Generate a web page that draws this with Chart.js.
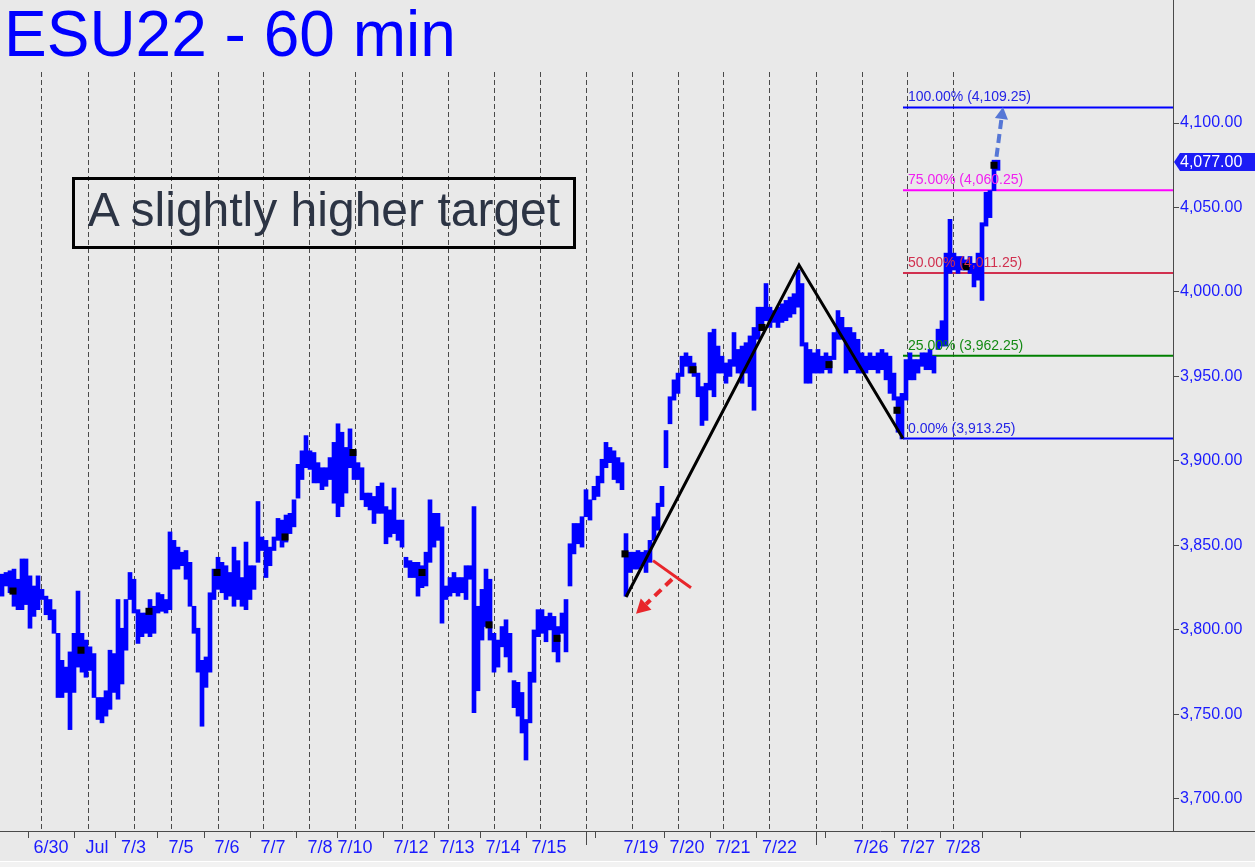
<!DOCTYPE html>
<html>
<head>
<meta charset="utf-8">
<title>ESU22 - 60 min</title>
<script src="https://cdn.jsdelivr.net/npm/chart.js@4.4.0/dist/chart.umd.min.js"></script>
<style>
  html, body { margin:0; padding:0; background:#e9e9e9; }
  #wrap { position:relative; width:1255px; height:867px; overflow:hidden; background:#e9e9e9; }
  #c { position:absolute; left:0; top:0; }
  #title { position:absolute; left:4px; top:-6px; font:64px Arial, "Liberation Sans", sans-serif; color:#0000ff; white-space:nowrap; line-height:80px; }
  #note { position:absolute; left:72px; top:177px; width:504px; height:72px; box-sizing:border-box; border:3px solid #000;
          font:48px Arial, "Liberation Sans", sans-serif; color:#2c3444; line-height:59px; text-align:center; white-space:nowrap; }
  #strip { position:absolute; left:0; top:861px; width:1255px; height:6px; background:#f2f2f2; border-top:1px solid #fff; }
</style>
</head>
<body>
<div id="wrap">
  <canvas id="c" width="1255" height="867"></canvas>
  <div id="title">ESU22 - 60 min</div>
  <div id="note">A slightly higher target</div>
  <div id="strip"></div>
</div>
<script>
// 60 min bars, one column = 2 hours (low / high)
var lows = [
3820,3826,3822,3814,3812,3812,3815,3801,3808,3812,
3818,3809,3806,3798,3760,3760,3763,3741,3763,3778,
3775,3772,3776,3760,3747,3745,3749,3753,3763,3759,
3768,3788,3818,3810,3792,3796,3798,3796,3798,3810,
3811,3810,3812,3836,3836,3838,3830,3814,3798,3775,
3743,3766,3775,3818,3824,3822,3818,3820,3814,3818,
3814,3812,3818,3824,3840,3847,3831,3838,3847,3853,
3849,3852,3857,3861,3878,
3889,3896,3895,3887,3887,3883,3885,3889,3875,3867,
3873,3881,3896,3889,3889,3877,3873,3871,3863,3869,
3869,3851,3855,3857,3853,3849,3837,3831,3831,3820,
3825,3826,3840,3849,3853,3804,3818,3820,3822,3820,
3822,3818,3830,3751,3764,3794,3802,3794,3775,3778,
3790,3784,3775,3754,3749,3739,3723,3745,3769,3796,
3798,3793,3800,3787,3781,3798,3787,3826,3845,3851,
3849,3867,3865,3877,3879,3887,3896,3899,3889,3887,
3883,3820,3834,3836,3836,3838,3834,3840,3853,3859,
3873,3896,3922,3936,3940,3950,3956,3952,3950,3938,
3921,3924,3942,3938,3952,3952,3946,3950,3956,3952,
3946,3952,3944,3930,3972,3979,3983,3979,3982,3979,
3982,3983,3985,3987,3991,3968,3946,3946,3952,3952,
3952,3954,3952,3960,3972,3972,3952,3954,3954,3952,
3952,3952,3954,3954,3952,3954,3948,3940,3936,3917,
3913,3936,3948,3948,3952,3956,3954,3954,3952,3966,
3968,3968,4011,4013,4011,4013,4013,4011,4003,4007,
3995,4039,4044,4060,4072
];
var highs = [
3833,3834,3835,3836,3830,3842,3842,3832,3826,3832,
3824,3820,3818,3812,3798,3782,3778,3787,3798,3823,
3798,3794,3790,3786,3760,3760,3764,3788,3786,3818,
3801,3818,3834,3830,3812,3810,3810,3818,3814,3822,
3821,3818,3858,3853,3849,3846,3847,3840,3814,3801,
3782,3784,3822,3836,3843,3840,3838,3834,3849,3841,
3831,3852,3838,3838,3876,3855,3853,3849,3855,3866,
3865,3868,3869,3877,3898,
3906,3915,3906,3905,3899,3896,3896,3902,3911,3922,
3917,3908,3919,3906,3899,3896,3881,3881,3879,3885,
3887,3873,3871,3884,3865,3865,3843,3841,3840,3840,
3838,3846,3877,3869,3869,3861,3826,3831,3834,3831,
3831,3838,3838,3873,3814,3824,3836,3830,3798,3794,
3802,3806,3798,3770,3769,3763,3747,3775,3800,3812,
3812,3808,3810,3808,3802,3810,3818,3851,3863,3863,
3867,3883,3877,3885,3891,3901,3911,3908,3906,3902,
3899,3857,3846,3846,3847,3846,3847,3853,3867,3875,
3885,3918,3938,3948,3952,3962,3964,3962,3958,3952,
3944,3946,3976,3978,3968,3962,3958,3960,3976,3966,
3968,3970,3974,3979,3991,3991,4005,3991,3989,3991,
3993,3995,3997,3999,4013,4005,3970,3966,3964,3966,
3962,3964,3962,3976,3989,3985,3979,3979,3976,3972,
3964,3962,3964,3962,3964,3966,3964,3962,3952,3938,
3940,3960,3964,3960,3960,3964,3964,3966,3962,3978,
3983,4023,4043,4023,4021,4021,4019,4021,4017,4023,
4041,4059,4060,4078,4078
];

// x axis in hours from the left edge
var dayTicks  = [25.5, 48.5, 66.75, 90.5, 113.5, 136.5, 160, 177.5, 205.5, 228.5, 251.5, 274.5, 320.5, 343.5, 366.5, 389.75, 435.5, 458.8, 481.5, 500.5];
var dayLabels = ['6/30','Jul','7/3','7/5','7/6','7/7','7/8','7/10','7/12','7/13','7/14','7/15','7/19','7/20','7/21','7/22','7/26','7/27','7/28',''];
var daySeps   = [20.5, 44, 66.75, 85.5, 108.75, 131.5, 154.5, 177.5, 201, 224, 247, 270, 293, 316, 338.75, 361.5, 384.5, 407.75, 430.85, 453.7, 476.65];
var weekSeps  = [293, 407.75];
var yTicks    = [3700, 3750, 3800, 3850, 3900, 3950, 4000, 4050, 4100];

// session markers
var markHours  = [6.5, 40.5, 74.5, 108.5, 142.5, 176.5, 211, 244.5, 278.5, 312.5, 346.5, 381, 414.5, 448.5, 483, 497];
var markPrices = [3823, 3788, 3811, 3834, 3855, 3905, 3834, 3803, 3795, 3845, 3954, 3979, 3957, 3930, 4015, 4075];

// abc pattern
var zigHours  = [313, 399.5, 451.5];
var zigPrices = [3819.5, 4016, 3913.25];

// fibonacci targets
var fibPct    = ['100.00%', '75.00%', '50.00%', '25.00%', '0.00%'];
var fibLevels = [4109.25, 4060.25, 4011.25, 3962.25, 3913.25];
var fibColors = ['#0000ff', '#ff00ff', '#d1304f', '#008000', '#0000ff'];
var fibText   = ['#2323e6', '#f020f0', '#d1304f', '#148a14', '#2323e6'];
var fibStart  = 451.5;
var lastPrice = 4077;

var xMax = 586.5;

function fmt(v) {
  return v.toLocaleString('en-US', {minimumFractionDigits: 2, maximumFractionDigits: 2});
}

function noPad(s) {
  s.paddingTop = 0; s.paddingBottom = 0; s.paddingLeft = 0; s.paddingRight = 0;
}

var bars = lows.map(function (lo, i) { return {x: 2 * i + 1, y: [lo, highs[i]]}; });

var datasets = [];
datasets.push({
  type: 'bar', label: 'ESU22', data: bars, backgroundColor: '#0000ff', borderWidth: 0,
  barThickness: 4, grouped: false, order: 4
});
fibLevels.forEach(function (lv, i) {
  datasets.push({
    type: 'line', label: fibPct[i], data: [{x: fibStart, y: lv}, {x: xMax, y: lv}],
    borderColor: fibColors[i], borderWidth: 2, pointRadius: 0, order: 5
  });
});
datasets.push({
  type: 'line', label: 'abc', data: zigHours.map(function (h, i) { return {x: h, y: zigPrices[i]}; }),
  borderColor: '#000', borderWidth: 3, pointRadius: 0, order: 2
});
datasets.push({
  type: 'scatter', label: 'marks', data: markHours.map(function (h, i) { return {x: h, y: markPrices[i]}; }),
  pointStyle: 'rect', pointRadius: 5, backgroundColor: '#000', borderWidth: 0, order: 1
});

function arrow(ctx, x1, y1, x2, y2, color, width, dash, head) {
  var a = Math.atan2(y2 - y1, x2 - x1);
  var bx = x2 - Math.cos(a) * head, by = y2 - Math.sin(a) * head;
  ctx.save();
  ctx.strokeStyle = color; ctx.fillStyle = color; ctx.lineWidth = width;
  ctx.setLineDash(dash);
  ctx.beginPath(); ctx.moveTo(x1, y1); ctx.lineTo(bx, by); ctx.stroke();
  ctx.setLineDash([]);
  ctx.beginPath();
  ctx.moveTo(x2, y2);
  ctx.lineTo(bx + Math.sin(a) * head * 0.55, by - Math.cos(a) * head * 0.55);
  ctx.lineTo(bx - Math.sin(a) * head * 0.55, by + Math.cos(a) * head * 0.55);
  ctx.closePath(); ctx.fill();
  ctx.restore();
}

var decor = {
  id: 'decor',
  beforeDatasetsDraw: function (chart) {
    var ctx = chart.ctx, xs = chart.scales.x, area = chart.chartArea;
    ctx.save();
    ctx.strokeStyle = '#4a4a4a'; ctx.lineWidth = 1;
    ctx.setLineDash([5, 3]);
    daySeps.forEach(function (h) {
      var px = Math.round(xs.getPixelForValue(h)) + 0.5;
      ctx.beginPath(); ctx.moveTo(px, 72); ctx.lineTo(px, area.bottom); ctx.stroke();
    });
    ctx.setLineDash([]);
    weekSeps.forEach(function (h) {
      var px = Math.round(xs.getPixelForValue(h)) + 0.5;
      ctx.beginPath(); ctx.moveTo(px, area.bottom); ctx.lineTo(px, area.bottom + 14); ctx.stroke();
    });
    ctx.beginPath(); ctx.moveTo(area.right, area.bottom + 0.5); ctx.lineTo(1255, area.bottom + 0.5); ctx.stroke();
    ctx.restore();
  },
  afterDatasetsDraw: function (chart) {
    var ctx = chart.ctx, xs = chart.scales.x, ys = chart.scales.y, area = chart.chartArea;
    ctx.save();
    ctx.font = '14px Arial, "Liberation Sans", sans-serif';
    ctx.textBaseline = 'alphabetic';
    fibLevels.forEach(function (lv, i) {
      ctx.fillStyle = fibText[i];
      ctx.fillText(fibPct[i] + ' (' + fmt(lv) + ')', xs.getPixelForValue(fibStart) + 5, ys.getPixelForValue(lv) - 6);
    });
    // stop / risk mark
    ctx.strokeStyle = '#e8262b'; ctx.lineWidth = 3;
    ctx.beginPath();
    ctx.moveTo(xs.getPixelForValue(326.5), ys.getPixelForValue(3841));
    ctx.lineTo(xs.getPixelForValue(345.5), ys.getPixelForValue(3825));
    ctx.stroke();
    arrow(ctx, xs.getPixelForValue(336), ys.getPixelForValue(3830), xs.getPixelForValue(318), ys.getPixelForValue(3809.5),
      '#e8262b', 4, [9, 6], 14);
    // target arrow
    arrow(ctx, xs.getPixelForValue(498.25), ys.getPixelForValue(4080), xs.getPixelForValue(501.5), ys.getPixelForValue(4109.5),
      '#5677d6', 4, [9, 5], 12);
    // last price tag
    var py = Math.round(ys.getPixelForValue(lastPrice));
    ctx.fillStyle = '#1c1cf5';
    ctx.beginPath();
    ctx.moveTo(area.right + 1, py);
    ctx.lineTo(area.right + 7, py - 9);
    ctx.lineTo(1255, py - 9);
    ctx.lineTo(1255, py + 9);
    ctx.lineTo(area.right + 7, py + 9);
    ctx.closePath(); ctx.fill();
    ctx.fillStyle = '#fff';
    ctx.font = '16px Arial, "Liberation Sans", sans-serif';
    ctx.textBaseline = 'middle';
    ctx.fillText(fmt(lastPrice), area.right + 7, py + 1);
    ctx.restore();
  }
};

new Chart(document.getElementById('c'), {
  type: 'bar',
  data: {datasets: datasets},
  plugins: [decor],
  options: {
    responsive: false,
    animation: false,
    devicePixelRatio: 1,
    layout: {padding: 0, autoPadding: false},
    plugins: {legend: {display: false}, tooltip: {enabled: false}, title: {display: false}},
    scales: {
      x: {
        type: 'linear', position: 'bottom', min: 0, max: xMax, offset: false,
        afterBuildTicks: function (s) { s.ticks = dayTicks.map(function (v) { return {value: v}; }); },
        afterFit: function (s) { s.height = 36; noPad(s); },
        ticks: {
          autoSkip: false, maxRotation: 0, padding: -1, color: '#1a1aff',
          font: {family: 'Arial, "Liberation Sans", sans-serif', size: 18},
          callback: function (v, i) { return dayLabels[i]; }
        },
        grid: {drawOnChartArea: false, tickLength: 7, color: '#4a4a4a'},
        border: {color: '#4a4a4a'}
      },
      y: {
        type: 'linear', position: 'right', min: 3681, max: 4172.8,
        afterBuildTicks: function (s) { s.ticks = yTicks.map(function (v) { return {value: v}; }); },
        afterFit: function (s) { s.width = 82; noPad(s); },
        ticks: {
          padding: 1, color: '#1a1aff',
          font: {family: 'Arial, "Liberation Sans", sans-serif', size: 16},
          callback: function (v) { return fmt(v); }
        },
        grid: {drawOnChartArea: false, tickLength: 6, color: '#4a4a4a'},
        border: {color: '#4a4a4a'}
      }
    }
  }
});
</script>
</body>
</html>
